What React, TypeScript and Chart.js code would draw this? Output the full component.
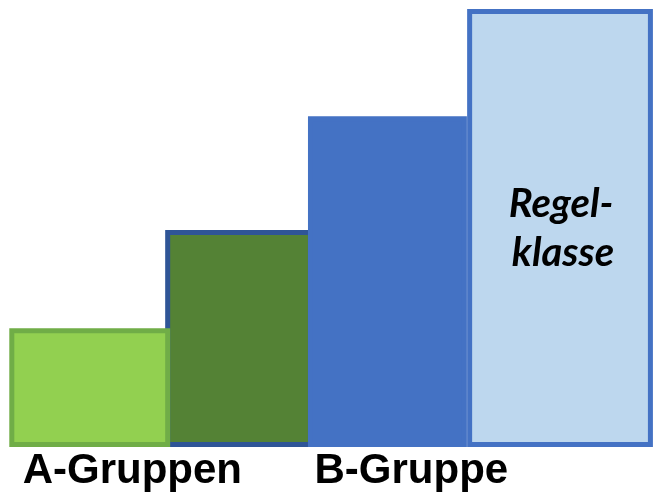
import React, { useEffect, useRef } from "react";
import { Chart, registerables } from "chart.js";

Chart.register(...registerables);

// Variable-width bars (data units: x 0..100, y 0..100)
const barNames = ["A-Gruppen 1", "A-Gruppen 2", "B-Gruppe", "Regelklasse"];
const barStarts = [1.8, 25.6, 47.4, 71.7];
const barEnds = [25.6, 47.4, 70.9, 99.3];
const barHeights = [25.6, 47.7, 73.3, 97.4];
const barFills = ["#92D050", "#548235", "#4472C4", "#BDD7EE"];
const barBorders = ["#70AD47", "#2F5597", "#4472C4", "#4472C4"];
const barOrder = [1, 3, 2, 2];

const groupLabels = ["A-Gruppen", "B-Gruppe"];
const groupLabelX = [20.2, 62.8];
const innerLabelLines = ["Regel-", "klasse"];

export default function App() {
  const ref = useRef<HTMLCanvasElement>(null);
  useEffect(() => {
    if (!ref.current) return;
    const datasets = barNames.map((name, i) => ({
      label: name,
      data: [
        { x: barStarts[i], y: 0 },
        { x: barStarts[i], y: barHeights[i] },
        { x: barEnds[i], y: barHeights[i] },
        { x: barEnds[i], y: 0 },
        { x: barStarts[i], y: 0 },
      ],
      showLine: true,
      fill: "shape",
      backgroundColor: barFills[i],
      borderColor: barBorders[i],
      borderWidth: 5,
      borderJoinStyle: "miter" as const,
      borderCapStyle: "square" as const,
      pointRadius: 0,
      tension: 0,
      clip: false as any,
      order: barOrder[i],
    }));

    const labelPlugin = {
      id: "labels",
      afterDatasetsDraw(chart: any) {
        const ctx = chart.ctx;
        const xs = chart.scales.x;
        const area = chart.chartArea;
        ctx.save();
        ctx.fillStyle = "#000";
        ctx.textAlign = "center";
        ctx.textBaseline = "alphabetic";
        ctx.font = 'bold 42px "Liberation Sans", Arial, sans-serif';
        groupLabels.forEach((t, i) => {
          ctx.fillText(t, xs.getPixelForValue(groupLabelX[i]), area.bottom + 38.5);
        });
        const cx = xs.getPixelForValue((barStarts[3] + barEnds[3]) / 2);
        ctx.font = 'italic bold 40px Lato, "Open Sans", sans-serif';
        ctx.fillText(innerLabelLines[0], cx + 1, 217);
        ctx.fillText(innerLabelLines[1], cx + 3, 266);
        ctx.restore();
      },
    };

    const chart = new Chart(ref.current, {
      type: "scatter",
      data: { datasets },
      options: {
        animation: false,
        responsive: false,
        events: [],
        layout: { padding: { left: 0, right: 0, top: 0, bottom: 49.5 } },
        plugins: { legend: { display: false }, tooltip: { enabled: false } },
        scales: {
          x: { type: "linear", min: 0, max: 100, display: false },
          y: { type: "linear", min: 0, max: 100, display: false },
        },
      },
      plugins: [labelPlugin],
    });
    return () => chart.destroy();
  }, []);

  return (
    <div style={{ position: "fixed", left: 0, top: 0, width: 655, height: 494, background: "#fff" }}>
      <canvas ref={ref} width={655} height={494} style={{ display: "block" }} />
    </div>
  );
}
